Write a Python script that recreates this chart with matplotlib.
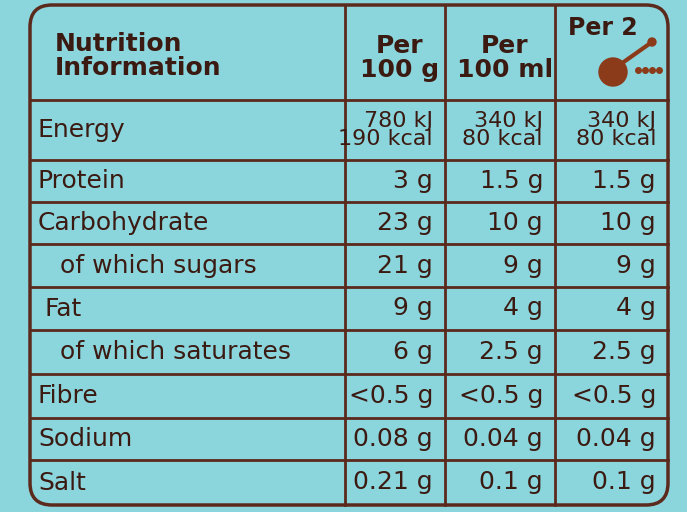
import matplotlib.pyplot as plt
from matplotlib.patches import Circle, FancyBboxPatch

# table contents
col_headers = ["Per\n100 g", "Per\n100 ml", "Per 2"]
nutrients = ["Energy", "Protein", "Carbohydrate", "of which sugars", "Fat",
             "of which saturates", "Fibre", "Sodium", "Salt"]
indent = [0, 0, 0, 1, 0.3, 1, 0, 0, 0]
per_100g = ["780 kJ\n190 kcal", "3 g", "23 g", "21 g", "9 g", "6 g", "<0.5 g", "0.08 g", "0.21 g"]
per_100ml = ["340 kJ\n80 kcal", "1.5 g", "10 g", "9 g", "4 g", "2.5 g", "<0.5 g", "0.04 g", "0.1 g"]
per_2 = ["340 kJ\n80 kcal", "1.5 g", "10 g", "9 g", "4 g", "2.5 g", "<0.5 g", "0.04 g", "0.1 g"]

col_x = [30, 345, 445, 555, 668]
row_y = [0, 100, 160, 202, 244, 287, 330, 374, 418, 460, 505]

bg = "#8bd5dc"
line = "#5b2a1c"
ink = "#3b1a12"
plt.rcParams["font.family"] = ["Liberation Sans Narrow", "DejaVu Sans"]

fig = plt.figure(figsize=(6.87, 5.12), dpi=100)
fig.patch.set_facecolor(bg)
ax = fig.add_axes([0, 0, 1, 1])
ax.set_xlim(0, 687)
ax.set_ylim(512, 0)
ax.axis("off")
ax.set_facecolor(bg)

# outer box (rounded top-left)
ax.add_patch(FancyBboxPatch((col_x[0], 5), col_x[-1] - col_x[0], row_y[-1] - 5,
                            boxstyle="round,pad=0,rounding_size=22",
                            fill=False, ec=line, lw=2.5))
for y in row_y[1:-1]:
    ax.plot([col_x[0], col_x[-1]], [y, y], color=line, lw=2)
for x in col_x[1:-1]:
    ax.plot([x, x], [5, row_y[-1]], color=line, lw=2)

ax.text(55, 56, "Nutrition\nInformation", fontsize=18, fontweight="bold",
        color=ink, va="center", ha="left", linespacing=1.05)
for i, h in enumerate(col_headers[:2]):
    ax.text((col_x[i + 1] + col_x[i + 2]) / 2 + 5, 58, h, fontsize=18, fontweight="bold",
            color=ink, ha="center", va="center", linespacing=1.05)
ax.text(603, 28, col_headers[2], fontsize=17, fontweight="bold", color=ink,
        ha="center", va="center")
# spoon icon
ax.add_patch(Circle((613, 72), 14, color="#8b3a1a"))
ax.plot([618, 652], [66, 42], color="#8b3a1a", lw=3)
ax.add_patch(Circle((652, 42), 4, color="#8b3a1a"))
ax.plot([638, 645, 652, 659], [70, 70, 70, 70], "o", color="#8b3a1a", ms=4)

for r, name in enumerate(nutrients):
    yc = (row_y[r + 1] + row_y[r + 2]) / 2
    ax.text(38 + indent[r] * 22, yc, name, fontsize=18, color=ink, ha="left", va="center")
    for c, vals in enumerate([per_100g, per_100ml, per_2]):
        xr = col_x[c + 2] - 12
        ax.text(xr, yc, vals[r], fontsize=18 if r else 16, color=ink, ha="right",
                va="center", linespacing=0.9)

fig.savefig("out.png", dpi=100, facecolor=bg)
